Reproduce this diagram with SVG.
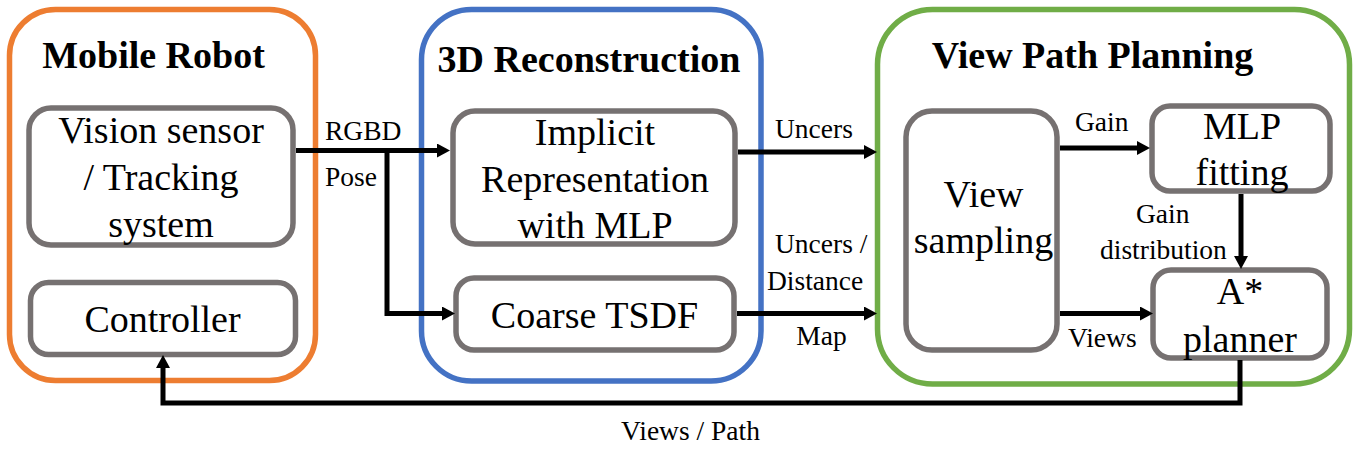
<svg xmlns="http://www.w3.org/2000/svg" width="1360" height="452" viewBox="0 0 1360 452" font-family="'Liberation Serif', 'Times New Roman', serif">
<defs>
<style>
.grp{fill:none;stroke-width:5.5}
.box{fill:none;stroke:#767171;stroke-width:5.5}
.title{font-weight:bold;font-size:38px;fill:#000;text-anchor:middle}
.main{font-size:38px;fill:#000;text-anchor:middle}
.lbl{font-size:27.5px;fill:#000}
.conn{fill:none;stroke:#000;stroke-width:5}
</style>
<marker id="ah" viewBox="0 0 13 14" refX="3" refY="7" markerWidth="13" markerHeight="14" markerUnits="userSpaceOnUse" orient="auto">
<path d="M0,0 L13,7 L0,14 Z" fill="#000"/>
</marker>
</defs>
<rect width="1360" height="452" fill="#fff"/>

<g id="mobile-robot">
<rect class="grp" x="9.5" y="9.5" width="306" height="371" rx="46" stroke="#ED7D31"/>
<text class="title" x="153.5" y="68" font-family="Liberation Serif, serif">Mobile Robot</text>
</g>
<g id="vision-sensor" font-family="Liberation Serif, serif">
<rect class="box" x="29" y="108" width="264" height="137" rx="22"/>
<text class="main" x="161" y="143">Vision sensor</text>
<text class="main" x="161" y="190">/ Tracking</text>
<text class="main" x="161" y="237">system</text>
</g>
<g id="controller" font-family="Liberation Serif, serif">
<rect class="box" x="30.5" y="282.5" width="265" height="72" rx="18"/>
<text class="main" x="162.5" y="332">Controller</text>
</g>

<g id="reconstruction" font-family="Liberation Serif, serif">
<rect class="grp" x="421.5" y="9.5" width="339.5" height="371.5" rx="50" stroke="#4472C4"/>
<text class="title" x="589" y="72">3D Reconstruction</text>
</g>
<g id="implicit" font-family="Liberation Serif, serif">
<rect class="box" x="453" y="111" width="282" height="133" rx="22"/>
<text class="main" x="595" y="145">Implicit</text>
<text class="main" x="595" y="192">Representation</text>
<text class="main" x="595" y="238">with MLP</text>
</g>
<g id="tsdf" font-family="Liberation Serif, serif">
<rect class="box" x="456" y="278" width="278" height="72" rx="18"/>
<text class="main" x="594.5" y="328">Coarse TSDF</text>
</g>

<g id="planning" font-family="Liberation Serif, serif">
<rect class="grp" x="877.5" y="9.5" width="472" height="374.5" rx="55" stroke="#70AD47"/>
<text class="title" x="1092.5" y="68">View Path Planning</text>
</g>
<g id="view-sampling" font-family="Liberation Serif, serif">
<rect class="box" x="906" y="111" width="151" height="239" rx="26"/>
<text class="main" x="983.5" y="207">View</text>
<text class="main" x="983.5" y="253">sampling</text>
</g>
<g id="mlp-fitting" font-family="Liberation Serif, serif">
<rect class="box" x="1152" y="106" width="178" height="85" rx="18"/>
<text class="main" x="1242" y="139">MLP</text>
<text class="main" x="1242" y="185">fitting</text>
</g>
<g id="astar" font-family="Liberation Serif, serif">
<rect class="box" x="1153" y="270" width="174" height="88" rx="18"/>
<text class="main" x="1240" y="304">A*</text>
<text class="main" x="1240" y="352">planner</text>
</g>

<g id="connectors">
<path class="conn" d="M296,150.5 H440" marker-end="url(#ah)"/>
<path class="conn" d="M387,150.5 V313.5 H445" marker-end="url(#ah)"/>
<path class="conn" d="M738,152 H867" marker-end="url(#ah)"/>
<path class="conn" d="M737,313.5 H867" marker-end="url(#ah)"/>
<path class="conn" d="M1060,148 H1140" marker-end="url(#ah)"/>
<path class="conn" d="M1060,313.5 H1143" marker-end="url(#ah)"/>
<path class="conn" d="M1241,194 V259" marker-end="url(#ah)"/>
<path class="conn" d="M1240,360 V403 H163 V365" marker-end="url(#ah)"/>
</g>

<g id="labels" font-family="Liberation Serif, serif">
<text class="lbl" x="325" y="140">RGBD</text>
<text class="lbl" x="325" y="186">Pose</text>
<text class="lbl" x="775" y="138">Uncers</text>
<text class="lbl" x="775" y="253">Uncers /</text>
<text class="lbl" x="767" y="290">Distance</text>
<text class="lbl" x="821.5" y="345" text-anchor="middle">Map</text>
<text class="lbl" x="1075" y="131">Gain</text>
<text class="lbl" x="1136" y="223">Gain</text>
<text class="lbl" x="1100" y="259">distribution</text>
<text class="lbl" x="1068" y="347">Views</text>
<text class="lbl" x="690.5" y="440" text-anchor="middle">Views / Path</text>
</g>
</svg>
